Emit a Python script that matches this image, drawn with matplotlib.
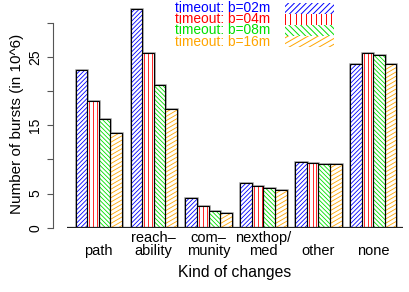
import numpy as np
import matplotlib
matplotlib.use("Agg")
import matplotlib.pyplot as plt
from matplotlib.patches import Rectangle
from matplotlib.collections import LineCollection
from matplotlib.transforms import IdentityTransform

plt.rcParams['font.family'] = ['Liberation Sans', 'DejaVu Sans']

# donnees (millions de bursts)
categories = ["path", "reach\u2013\nability", "com\u2013\nmunity", "nexthop/\nmed", "other", "none"]
series_labels = ["timeout: b=02m", "timeout: b=04m", "timeout: b=08m", "timeout: b=16m"]
b02 = [23.0, 32.0, 4.3, 6.6, 9.6, 23.9]
b04 = [18.5, 25.6, 3.2, 6.05, 9.4, 25.6]
b08 = [15.9, 20.8, 2.45, 5.75, 9.35, 25.3]
b16 = [13.9, 17.4, 2.2, 5.5, 9.35, 23.9]
series = [b02, b04, b08, b16]
colors = ["#0000FF", "#FF0000", "#00E000", "#FFA500"]
angles = [45, 90, -45, 30]  # angle des hachures
spacing = [3.1, 3.8, 3.1, 3.7]  # ecart des hachures en pixels

W, H = 410, 292
fig = plt.figure(figsize=(W / 100, H / 100), dpi=100)
ax = fig.add_axes([67 / W, 64.3 / H, 336 / W, 227.7 / H])
ax.set_xlim(0, 29.07)
ax.set_ylim(0, 33.3)


def hachurer(bbox, color, angle, sp, lw=0.6):
    """trace des lignes inclinees dans bbox (pixels)"""
    x0, y0, x1, y1 = bbox
    a = np.deg2rad(angle)
    d = np.array([np.cos(a), np.sin(a)])
    n = np.array([-np.sin(a), np.cos(a)])
    coins = np.array([[x0, y0], [x1, y0], [x0, y1], [x1, y1]])
    proj = coins @ n
    L = (x1 - x0) + (y1 - y0)
    m = coins.mean(axis=0)
    segs = []
    for c in np.arange(proj.min() + sp / 2, proj.max(), sp):
        p = c * n + m - (m @ n) * n
        segs.append([p - L * d, p + L * d])
    return LineCollection(segs, colors=color, linewidths=lw, transform=IdentityTransform())


space = 0.75
x = np.arange(len(categories)) * (4 + space) + space
for i, vals in enumerate(series):
    for j, v in enumerate(vals):
        xl = x[j] + i
        # ombre grise puis contour noir
        ax.add_patch(Rectangle((xl, 0), 1, v, fill=False, edgecolor="#999999", lw=1.8, zorder=2))
        r = Rectangle((xl, 0), 1, v, facecolor="white", edgecolor="none", zorder=3)
        ax.add_patch(r)
        p0 = ax.transData.transform((xl, 0))
        p1 = ax.transData.transform((xl + 1, v))
        lc = hachurer((p0[0], p0[1], p1[0], p1[1]), colors[i], angles[i], spacing[i])
        lc.set_zorder(4)
        ax.add_collection(lc, autolim=False)
        lc.set_clip_path(r)
        ax.add_patch(Rectangle((xl, 0), 1, v, fill=False, edgecolor="black", lw=0.8, zorder=5))

ax.axhline(0, color="#222222", lw=1.6, zorder=6)

# axes a la R (distances en points: 1 pt = 1.39 px)
for s in ["top", "right", "bottom"]:
    ax.spines[s].set_visible(False)
ax.spines["left"].set_position(("outward", 10.4))
ax.spines["left"].set_bounds(0, 30)
ax.spines["left"].set_color("#555555")
ax.set_yticks([0, 5, 10, 15, 20, 25, 30])
ax.set_yticklabels(["0", "5", "", "15", "", "25", ""], rotation=90, va="center", fontsize=10)
ax.tick_params(axis="y", length=4, color="#555555", pad=3.5)
ax.set_xticks([])

for j, lab in enumerate(categories):
    lignes = lab.split("\n")
    ax.text(x[j] + 2, -4.0, lignes[-1], ha="center", va="baseline", fontsize=10.5)
    if len(lignes) > 1:
        ax.text(x[j] + 2, -2.1, lignes[0], ha="center", va="baseline", fontsize=10.5)

fig.text(235 / W, 1 - 277 / H, "Kind of changes", ha="center", va="baseline", fontsize=11.3)
fig.text(17 / W, 1 - 124 / H, "Number of bursts (in 10^6)", ha="center", va="center",
         rotation=90, fontsize=11)

# legende
for i, lab in enumerate(series_labels):
    yb = 12.2 + i * 11.1
    fig.text(222.5 / W, 1 - yb / H, lab, color=colors[i], ha="center", va="baseline", fontsize=9.9)
    rx0, rx1 = 285, 334
    ry1 = H - (2.7 + i * 11.1)
    ry0 = H - (13.8 + i * 11.1)
    rr = Rectangle((rx0, ry0), rx1 - rx0, ry1 - ry0, transform=IdentityTransform(),
                   facecolor="none", edgecolor="none")
    fig.add_artist(rr)
    lc = hachurer((rx0, ry0, rx1, ry1), colors[i], angles[i], spacing[i] * 1.35, lw=0.7)
    fig.add_artist(lc)
    lc.set_clip_path(rr)

fig.savefig("out.png", dpi=100)
